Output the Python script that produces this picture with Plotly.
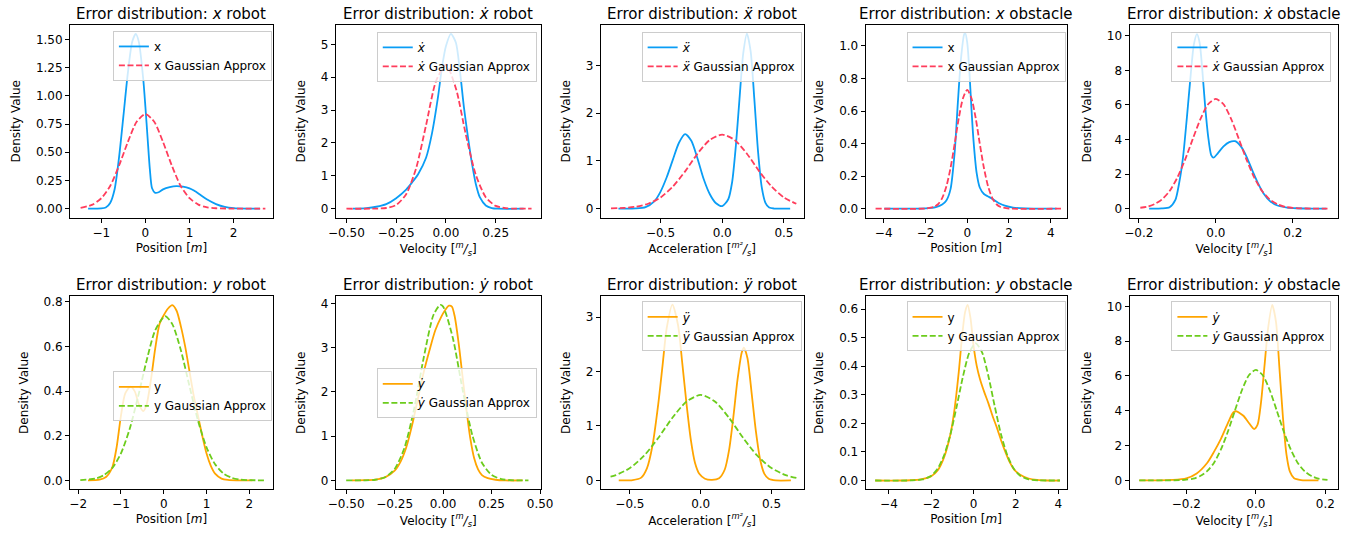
import plotly.graph_objects as go

# ---------------- data ----------------
# Panel 1: x robot
xr_kde_x = [-1.30, -1.00, -0.90, -0.80, -0.70, -0.60, -0.50, -0.40, -0.30, -0.22, -0.15, -0.05, 0.00, 0.05, 0.10, 0.15, 0.22, 0.30, 0.40, 0.55, 0.70, 0.85, 1.00, 1.10, 1.25, 1.40, 1.60, 1.80, 2.00, 2.30, 2.60]
xr_kde_y = [0.000, 0.002, 0.010, 0.05, 0.17, 0.45, 0.82, 1.20, 1.48, 1.55, 1.48, 1.15, 0.90, 0.62, 0.35, 0.18, 0.14, 0.145, 0.17, 0.19, 0.20, 0.195, 0.18, 0.16, 0.12, 0.08, 0.04, 0.015, 0.004, 0.000, 0.000]
xr_gau_x = [-1.47, -1.2, -1.0, -0.8, -0.6, -0.4, -0.2, 0.0, 0.2, 0.4, 0.6, 0.8, 1.0, 1.2, 1.4, 1.6, 2.0, 2.72]
xr_gau_y = [0.007, 0.035, 0.092, 0.20, 0.38, 0.59, 0.77, 0.84, 0.77, 0.59, 0.38, 0.20, 0.092, 0.035, 0.011, 0.003, 0.000, 0.000]

# Panel 2: x-dot robot
vxr_kde_x = [-0.467, -0.40, -0.35, -0.30, -0.25, -0.20, -0.17, -0.14, -0.10, -0.07, -0.04, -0.02, 0.00, 0.025, 0.05, 0.07, 0.09, 0.11, 0.13, 0.15, 0.17, 0.20, 0.23, 0.26, 0.39]
vxr_kde_y = [0.00, 0.02, 0.06, 0.14, 0.32, 0.58, 0.80, 1.05, 1.55, 2.30, 3.40, 4.30, 4.95, 5.32, 5.05, 4.20, 3.10, 2.20, 1.40, 0.75, 0.35, 0.10, 0.02, 0.00, 0.00]
vxr_gau_x = [-0.50, -0.35, -0.30, -0.25, -0.20, -0.15, -0.10, -0.05, 0.00, 0.05, 0.10, 0.15, 0.20, 0.25, 0.30, 0.35, 0.43]
vxr_gau_y = [0.000, 0.003, 0.022, 0.114, 0.44, 1.23, 2.54, 3.88, 4.38, 3.66, 2.25, 1.03, 0.35, 0.086, 0.016, 0.002, 0.000]

# Panel 3: x-ddot robot
axr_kde_x = [-0.84, -0.70, -0.62, -0.55, -0.50, -0.45, -0.40, -0.35, -0.30, -0.25, -0.20, -0.15, -0.10, -0.05, 0.00, 0.05, 0.08, 0.11, 0.14, 0.17, 0.20, 0.23, 0.26, 0.29, 0.32, 0.35, 0.38, 0.42, 0.55]
axr_kde_y = [0.00, 0.003, 0.03, 0.15, 0.35, 0.65, 1.02, 1.38, 1.56, 1.42, 1.05, 0.62, 0.30, 0.11, 0.05, 0.20, 0.55, 1.30, 2.30, 3.25, 3.67, 3.30, 2.30, 1.20, 0.45, 0.12, 0.02, 0.00, 0.00]
axr_gau_x = [-0.90, -0.80, -0.70, -0.60, -0.50, -0.40, -0.30, -0.20, -0.10, 0.00, 0.10, 0.20, 0.30, 0.40, 0.50, 0.60]
axr_gau_y = [0.003, 0.012, 0.038, 0.10, 0.23, 0.46, 0.78, 1.15, 1.44, 1.55, 1.44, 1.15, 0.78, 0.46, 0.23, 0.10]

# Panel 4: x obstacle
xo_kde_x = [-3.97, -3.0, -2.0, -1.5, -1.2, -1.0, -0.8, -0.6, -0.45, -0.3, -0.15, -0.1, 0.0, 0.1, 0.2, 0.3, 0.45, 0.6, 0.8, 1.0, 1.2, 1.5, 1.8, 2.2, 2.8, 3.5, 4.28]
xo_kde_y = [0.000, 0.000, 0.002, 0.010, 0.025, 0.05, 0.12, 0.35, 0.65, 0.92, 1.07, 1.08, 1.02, 0.85, 0.62, 0.42, 0.22, 0.13, 0.09, 0.075, 0.06, 0.035, 0.018, 0.006, 0.001, 0.000, 0.000]
xo_gau_x = [-4.39, -2.0, -1.6, -1.4, -1.2, -1.0, -0.8, -0.6, -0.4, -0.2, 0.0, 0.2, 0.4, 0.6, 0.8, 1.0, 1.2, 1.4, 1.6, 2.0, 4.6]
xo_gau_y = [0.000, 0.001, 0.010, 0.027, 0.065, 0.136, 0.25, 0.40, 0.56, 0.68, 0.73, 0.68, 0.56, 0.40, 0.25, 0.136, 0.065, 0.027, 0.010, 0.001, 0.000]

# Panel 5: x-dot obstacle
vxo_kde_x = [-0.173, -0.14, -0.12, -0.105, -0.095, -0.085, -0.075, -0.065, -0.057, -0.049, -0.042, -0.035, -0.028, -0.020, -0.012, -0.006, 0.005, 0.020, 0.035, 0.050, 0.065, 0.080, 0.095, 0.110, 0.125, 0.140, 0.160, 0.185, 0.21, 0.25, 0.287]
vxo_kde_y = [0.00, 0.01, 0.08, 0.50, 1.50, 3.00, 5.30, 7.80, 9.50, 10.10, 9.60, 8.00, 6.00, 4.20, 3.10, 2.95, 3.20, 3.60, 3.85, 3.90, 3.60, 3.00, 2.20, 1.45, 0.85, 0.45, 0.18, 0.06, 0.02, 0.00, 0.00]
vxo_gau_x = [-0.196, -0.18, -0.16, -0.14, -0.12, -0.10, -0.08, -0.06, -0.04, -0.02, 0.00, 0.02, 0.04, 0.06, 0.08, 0.10, 0.12, 0.14, 0.16, 0.18, 0.20, 0.22, 0.25, 0.29]
vxo_gau_y = [0.05, 0.10, 0.25, 0.53, 1.02, 1.79, 2.82, 4.02, 5.18, 6.04, 6.35, 6.04, 5.18, 4.02, 2.82, 1.79, 1.02, 0.53, 0.25, 0.10, 0.04, 0.014, 0.002, 0.000]

# Panel 6: y robot
yr_kde_x = [-1.77, -1.50, -1.35, -1.20, -1.10, -1.00, -0.90, -0.78, -0.68, -0.58, -0.48, -0.40, -0.30, -0.20, -0.10, 0.00, 0.10, 0.20, 0.30, 0.40, 0.50, 0.60, 0.70, 0.80, 0.90, 1.00, 1.10, 1.20, 1.35, 1.50, 1.70, 2.07]
yr_kde_y = [0.000, 0.003, 0.015, 0.06, 0.15, 0.29, 0.39, 0.42, 0.40, 0.34, 0.31, 0.34, 0.45, 0.59, 0.70, 0.74, 0.77, 0.785, 0.76, 0.69, 0.60, 0.49, 0.38, 0.29, 0.20, 0.12, 0.065, 0.03, 0.008, 0.002, 0.000, 0.000]
yr_gau_x = [-1.95, -1.6, -1.4, -1.2, -1.0, -0.8, -0.6, -0.4, -0.2, 0.03, 0.2, 0.4, 0.6, 0.8, 1.0, 1.2, 1.4, 1.6, 1.8, 2.0, 2.38]
yr_gau_y = [0.001, 0.008, 0.023, 0.056, 0.121, 0.228, 0.375, 0.537, 0.672, 0.736, 0.70, 0.583, 0.423, 0.268, 0.148, 0.072, 0.030, 0.011, 0.003, 0.001, 0.000]

# Panel 7: y-dot robot
vyr_kde_x = [-0.47, -0.40, -0.35, -0.30, -0.25, -0.22, -0.19, -0.16, -0.13, -0.10, -0.07, -0.04, -0.01, 0.01, 0.03, 0.045, 0.06, 0.08, 0.10, 0.12, 0.14, 0.16, 0.18, 0.20, 0.23, 0.27, 0.32, 0.41]
vyr_kde_y = [0.00, 0.005, 0.02, 0.07, 0.22, 0.42, 0.75, 1.25, 1.85, 2.45, 2.95, 3.40, 3.70, 3.85, 3.95, 3.93, 3.70, 3.10, 2.35, 1.60, 0.95, 0.50, 0.25, 0.12, 0.05, 0.015, 0.00, 0.00]
vyr_gau_x = [-0.50, -0.40, -0.35, -0.30, -0.25, -0.20, -0.15, -0.10, -0.05, -0.015, 0.00, 0.05, 0.10, 0.15, 0.20, 0.25, 0.30, 0.35, 0.44]
vyr_gau_y = [0.000, 0.003, 0.015, 0.071, 0.258, 0.73, 1.61, 2.78, 3.74, 3.97, 3.93, 3.22, 2.06, 1.03, 0.40, 0.123, 0.029, 0.005, 0.000]

# Panel 8: y-ddot robot
ayr_kde_x = [-0.579, -0.48, -0.42, -0.38, -0.34, -0.30, -0.27, -0.24, -0.20, -0.16, -0.13, -0.10, -0.07, -0.04, -0.01, 0.03, 0.08, 0.13, 0.17, 0.20, 0.23, 0.26, 0.29, 0.305, 0.33, 0.36, 0.39, 0.42, 0.45, 0.48, 0.53, 0.637]
ayr_kde_y = [0.00, 0.005, 0.05, 0.22, 0.65, 1.40, 2.10, 2.80, 3.23, 2.85, 2.15, 1.40, 0.75, 0.32, 0.12, 0.03, 0.01, 0.04, 0.20, 0.55, 1.15, 1.85, 2.35, 2.44, 2.25, 1.60, 0.90, 0.38, 0.12, 0.03, 0.00, 0.00]
ayr_gau_x = [-0.637, -0.6, -0.5, -0.4, -0.3, -0.2, -0.1, 0.0, 0.1, 0.2, 0.3, 0.4, 0.5, 0.6, 0.683]
ayr_gau_y = [0.068, 0.096, 0.226, 0.454, 0.78, 1.15, 1.45, 1.57, 1.45, 1.15, 0.78, 0.454, 0.226, 0.096, 0.042]

# Panel 9: y obstacle
yo_kde_x = [-4.65, -3.5, -3.0, -2.5, -2.0, -1.7, -1.4, -1.1, -0.9, -0.7, -0.55, -0.4, -0.28, -0.15, 0.0, 0.15, 0.3, 0.5, 0.7, 0.9, 1.1, 1.3, 1.5, 1.7, 1.9, 2.2, 2.6, 3.0, 3.5, 4.08]
yo_kde_y = [0.000, 0.000, 0.001, 0.004, 0.015, 0.035, 0.08, 0.16, 0.25, 0.38, 0.50, 0.59, 0.614, 0.57, 0.47, 0.40, 0.355, 0.31, 0.27, 0.225, 0.185, 0.14, 0.10, 0.065, 0.04, 0.02, 0.007, 0.002, 0.000, 0.000]
yo_gau_x = [-4.65, -2.9, -2.4, -2.0, -1.7, -1.4, -1.1, -0.8, -0.5, -0.2, 0.1, 0.4, 0.7, 1.0, 1.3, 1.6, 1.9, 2.2, 2.6, 3.1, 4.08]
yo_gau_y = [0.000, 0.0005, 0.004, 0.017, 0.041, 0.087, 0.160, 0.259, 0.365, 0.448, 0.48, 0.448, 0.365, 0.259, 0.160, 0.087, 0.041, 0.017, 0.004, 0.0005, 0.000]

# Panel 10: y-dot obstacle
vyo_kde_x = [-0.335, -0.28, -0.24, -0.20, -0.17, -0.14, -0.12, -0.10, -0.08, -0.065, -0.055, -0.045, -0.035, -0.02, -0.005, 0.005, 0.015, 0.025, 0.035, 0.047, 0.058, 0.068, 0.078, 0.088, 0.098, 0.11, 0.13, 0.18]
vyo_kde_y = [0.00, 0.005, 0.03, 0.12, 0.40, 1.00, 1.65, 2.40, 3.30, 3.90, 3.97, 3.85, 3.70, 3.30, 2.95, 3.20, 4.50, 6.60, 8.70, 10.08, 9.10, 6.40, 3.60, 1.50, 0.50, 0.12, 0.02, 0.00]
vyo_gau_x = [-0.335, -0.30, -0.25, -0.22, -0.20, -0.18, -0.16, -0.14, -0.12, -0.10, -0.08, -0.06, -0.04, -0.02, 0.00, 0.02, 0.04, 0.06, 0.08, 0.10, 0.12, 0.14, 0.16, 0.18, 0.206]
vyo_gau_y = [0.000, 0.000, 0.002, 0.014, 0.04, 0.10, 0.25, 0.53, 1.02, 1.79, 2.82, 4.02, 5.18, 6.04, 6.35, 6.04, 5.18, 4.02, 2.82, 1.79, 1.02, 0.53, 0.25, 0.10, 0.03]

# tick values / labels
ticks_pos_robot_x = [-1, 0, 1, 2]
ticks_pos_robot_y = [0, 0.25, 0.5, 0.75, 1.0, 1.25, 1.5]
ticks_pos_robot_y_txt = ["0.00", "0.25", "0.50", "0.75", "1.00", "1.25", "1.50"]
ticks_vel_robot_x = [-0.5, -0.25, 0, 0.25]
ticks_vel_robot_x_txt = ["\u22120.50", "\u22120.25", "0.00", "0.25"]
ticks_vel_robot2_x = [-0.5, -0.25, 0, 0.25, 0.5]
ticks_vel_robot2_x_txt = ["\u22120.50", "\u22120.25", "0.00", "0.25", "0.50"]
ticks_acc_x = [-0.5, 0, 0.5]
ticks_acc_x_txt = ["\u22120.5", "0.0", "0.5"]
ticks_obs_pos_x = [-4, -2, 0, 2, 4]
ticks_obs_vel_x = [-0.2, 0, 0.2]
ticks_obs_vel_x_txt = ["\u22120.2", "0.0", "0.2"]
ticks_y_05 = [0, 1, 2, 3, 4, 5]
ticks_y_03 = [0, 1, 2, 3]
ticks_y_04 = [0, 1, 2, 3, 4]
ticks_y_010 = [0, 2, 4, 6, 8, 10]
ticks_y_obs_x = [0, 0.2, 0.4, 0.6, 0.8, 1.0]
ticks_y_obs_x_txt = ["0.0", "0.2", "0.4", "0.6", "0.8", "1.0"]
ticks_y_yr = [0, 0.2, 0.4, 0.6, 0.8]
ticks_y_yr_txt = ["0.0", "0.2", "0.4", "0.6", "0.8"]
ticks_y_yo = [0, 0.1, 0.2, 0.3, 0.4, 0.5, 0.6]
ticks_y_yo_txt = ["0.0", "0.1", "0.2", "0.3", "0.4", "0.5", "0.6"]

# ---------------- styling / layout ----------------
W, H = 1370, 535
FONT = "DejaVu Sans"
BLUE, RED = "#0a9df5", "#ff3d5c"
ORANGE, GREEN = "#ffa500", "#6ccc1c"

col_px = [(63, 269), (333, 541), (602, 808), (871, 1075), (1139, 1351)]
row_px = [(24, 217), (296, 489)]

POS = "Position [<i>m</i>]"
VEL = "Velocity [<i><sup>m</sup>/<sub>s</sub></i>]"
ACC = "Acceleration [<i><sup>m\u00b2</sup>/<sub>s</sub></i>]"

def neg(vals):
    return [("\u2212" + str(abs(v))) if v < 0 else str(v) for v in vals]

panels = [
    dict(r=0, c=0, sym="<i>x</i>", leg="x", who="robot", xl=POS, kx=xr_kde_x, ky=xr_kde_y, gx=xr_gau_x, gy=xr_gau_y,
         xr=[-1.71, 2.89], yr=[-0.08, 1.63], xt=ticks_pos_robot_x, xtt=neg(ticks_pos_robot_x),
         yt=ticks_pos_robot_y, ytt=ticks_pos_robot_y_txt, c1=BLUE, c2=RED, lg=(268, 30)),
    dict(r=0, c=1, sym="<i>\u1e8b</i>", leg="<i>\u1e8b</i>", who="robot", xl=VEL, kx=vxr_kde_x, ky=vxr_kde_y, gx=vxr_gau_x, gy=vxr_gau_y,
         xr=[-0.553, 0.476], yr=[-0.27, 5.59], xt=ticks_vel_robot_x, xtt=ticks_vel_robot_x_txt,
         yt=ticks_y_05, ytt=[str(v) for v in ticks_y_05], c1=BLUE, c2=RED, lg=(537, 31)),
    dict(r=0, c=2, sym="<i>\u1e8d</i>", leg="<i>\u1e8d</i>", who="robot", xl=ACC, kx=axr_kde_x, ky=axr_kde_y, gx=axr_gau_x, gy=axr_gau_y,
         xr=[-0.983, 0.659], yr=[-0.19, 3.85], xt=ticks_acc_x, xtt=ticks_acc_x_txt,
         yt=ticks_y_03, ytt=[str(v) for v in ticks_y_03], c1=BLUE, c2=RED, lg=(806, 31)),
    dict(r=0, c=3, sym="<i>x</i>", leg="x", who="obstacle", xl=POS, kx=xo_kde_x, ky=xo_kde_y, gx=xo_gau_x, gy=xo_gau_y,
         xr=[-4.865, 4.755], yr=[-0.055, 1.129], xt=ticks_obs_pos_x, xtt=neg(ticks_obs_pos_x),
         yt=ticks_y_obs_x, ytt=ticks_y_obs_x_txt, c1=BLUE, c2=RED, lg=(1074, 31)),
    dict(r=0, c=4, sym="<i>\u1e8b</i>", leg="<i>\u1e8b</i>", who="obstacle", xl=VEL, kx=vxo_kde_x, ky=vxo_kde_y, gx=vxo_gau_x, gy=vxo_gau_y,
         xr=[-0.224, 0.318], yr=[-0.52, 10.63], xt=ticks_obs_vel_x, xtt=ticks_obs_vel_x_txt,
         yt=ticks_y_010, ytt=[str(v) for v in ticks_y_010], c1=BLUE, c2=RED, lg=(1344, 31)),
    dict(r=1, c=0, sym="<i>y</i>", leg="y", who="robot", xl=POS, kx=yr_kde_x, ky=yr_kde_y, gx=yr_gau_x, gy=yr_gau_y,
         xr=[-2.19, 2.55], yr=[-0.039, 0.824], xt=[-2, -1, 0, 1, 2], xtt=neg([-2, -1, 0, 1, 2]),
         yt=ticks_y_yr, ytt=ticks_y_yr_txt, c1=ORANGE, c2=GREEN, lg=(268, 371)),
    dict(r=1, c=1, sym="<i>\u1e8f</i>", leg="<i>\u1e8f</i>", who="robot", xl=VEL, kx=vyr_kde_x, ky=vyr_kde_y, gx=vyr_gau_x, gy=vyr_gau_y,
         xr=[-0.553, 0.503], yr=[-0.196, 4.16], xt=ticks_vel_robot2_x, xtt=ticks_vel_robot2_x_txt,
         yt=ticks_y_04, ytt=[str(v) for v in ticks_y_04], c1=ORANGE, c2=GREEN, lg=(537, 368)),
    dict(r=1, c=2, sym="<i>\u00ff</i>", leg="<i>\u00ff</i>", who="robot", xl=ACC, kx=ayr_kde_x, ky=ayr_kde_y, gx=ayr_gau_x, gy=ayr_gau_y,
         xr=[-0.706, 0.727], yr=[-0.16, 3.38], xt=ticks_acc_x, xtt=ticks_acc_x_txt,
         yt=ticks_y_03, ytt=[str(v) for v in ticks_y_03], c1=ORANGE, c2=GREEN, lg=(806, 301)),
    dict(r=1, c=3, sym="<i>y</i>", leg="y", who="obstacle", xl=POS, kx=yo_kde_x, ky=yo_kde_y, gx=yo_gau_x, gy=yo_gau_y,
         xr=[-5.10, 4.39], yr=[-0.030, 0.644], xt=ticks_obs_pos_x, xtt=neg(ticks_obs_pos_x),
         yt=ticks_y_yo, ytt=ticks_y_yo_txt, c1=ORANGE, c2=GREEN, lg=(1074, 301)),
    dict(r=1, c=4, sym="<i>\u1e8f</i>", leg="<i>\u1e8f</i>", who="obstacle", xl=VEL, kx=vyo_kde_x, ky=vyo_kde_y, gx=vyo_gau_x, gy=vyo_gau_y,
         xr=[-0.363, 0.237], yr=[-0.5, 10.57], xt=ticks_obs_vel_x, xtt=ticks_obs_vel_x_txt,
         yt=ticks_y_010, ytt=[str(v) for v in ticks_y_010], c1=ORANGE, c2=GREEN, lg=(1344, 301)),
]

fig = go.Figure()
layout = dict(
    width=W, height=H, margin=dict(l=0, r=0, t=0, b=0),
    paper_bgcolor="white", plot_bgcolor="white",
    font=dict(family=FONT, size=12, color="black"),
    annotations=[],
)

axis_common = dict(showline=True, mirror=True, linecolor="black", linewidth=1,
                   ticks="outside", ticklen=4, tickwidth=1, tickcolor="black",
                   showgrid=False, zeroline=False,
                   tickfont=dict(family=FONT, size=12, color="black"))

for i, p in enumerate(panels):
    n = i + 1
    xa = "x" if n == 1 else f"x{n}"
    ya = "y" if n == 1 else f"y{n}"
    lgname = "legend" if n == 1 else f"legend{n}"
    x0, x1 = col_px[p["c"]]
    y0, y1 = row_px[p["r"]]
    fig.add_trace(go.Scatter(x=p["kx"], y=p["ky"], mode="lines", name=p["leg"],
                             line=dict(color=p["c1"], width=1.8, shape="spline", smoothing=0.7),
                             xaxis=xa, yaxis=ya, legend=lgname))
    fig.add_trace(go.Scatter(x=p["gx"], y=p["gy"], mode="lines", name=p["leg"] + " Gaussian Approx",
                             line=dict(color=p["c2"], width=1.8, dash="6px,2.6px", shape="spline", smoothing=0.7),
                             xaxis=xa, yaxis=ya, legend=lgname))
    layout["xaxis" if n == 1 else f"xaxis{n}"] = dict(
        axis_common, domain=[x0 / W, x1 / W], anchor=ya, range=p["xr"],
        tickmode="array", tickvals=p["xt"], ticktext=p["xtt"],
        title=dict(text=p["xl"], font=dict(family=FONT, size=12, color="black"), standoff=4))
    layout["yaxis" if n == 1 else f"yaxis{n}"] = dict(
        axis_common, domain=[1 - y1 / H, 1 - y0 / H], anchor=xa, range=p["yr"],
        tickmode="array", tickvals=p["yt"], ticktext=p["ytt"],
        title=dict(text="Density Value", font=dict(family=FONT, size=12, color="black"), standoff=12))
    lx, ly = p["lg"]
    layout[lgname] = dict(x=lx / W, y=1 - ly / H, xanchor="right", yanchor="top",
                          bgcolor="rgba(255,255,255,0.8)", bordercolor="#cccccc", borderwidth=1,
                          font=dict(family=FONT, size=12, color="black"),
                          tracegroupgap=0, itemwidth=30)
    layout["annotations"].append(dict(
        text=f"Error distribution: {p['sym']} {p['who']}", xref="paper", yref="paper",
        x=(x0 + x1) / 2 / W, y=1 - y0 / H, xanchor="center", yanchor="bottom", yshift=0,
        showarrow=False, font=dict(family=FONT, size=15, color="black")))

fig.update_layout(**layout)
fig.write_html("out.html")
